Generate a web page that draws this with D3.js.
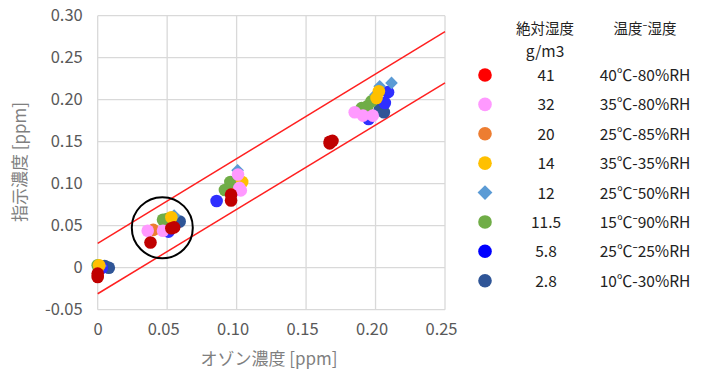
<!DOCTYPE html>
<html>
<head>
<meta charset="utf-8">
<script src="https://cdn.jsdelivr.net/npm/d3@7"></script>
<style>
  html, body { margin: 0; padding: 0; background: #fff; }
  svg { display: block; font-family: "Noto Sans CJK JP", "Noto Sans", sans-serif; }
</style>
</head>
<body>
<svg id="chart" width="707" height="371"></svg>
<script>
// Axis ticks
const xTicks = [0, 0.05, 0.10, 0.15, 0.20, 0.25];
const xTickLabels = ["0", "0.05", "0.10", "0.15", "0.20", "0.25"];
const yTicks = [-0.05, 0, 0.05, 0.10, 0.15, 0.20, 0.25, 0.30];
const yTickLabels = ["-0.05", "0", "0.05", "0.10", "0.15", "0.20", "0.25", "0.30"];

// Legend columns
const absHumidity = ["41", "32", "20", "14", "12", "11.5", "5.8", "2.8"];
const conditions = ["40℃-80%RH", "35℃-80%RH", "25℃-85%RH", "35℃-35%RH",
                    "25℃⁻50%RH", "15℃⁻90%RH", "25℃⁻25%RH", "10℃-30%RH"];

// Measured points [ozone ppm, indicated ppm] per humidity condition
const s41 = [[0.000, -0.007], [0.000, -0.011], [0.038, 0.030], [0.053, 0.047], [0.055, 0.048],
             [0.096, 0.087], [0.096, 0.080], [0.167, 0.150], [0.169, 0.151], [0.167, 0.148]];
const s32 = [[0.036, 0.044], [0.047, 0.044], [0.101, 0.111], [0.102, 0.095], [0.103, 0.092],
             [0.185, 0.185], [0.191, 0.181], [0.198, 0.181]];
const s20 = [[0.001, 0.002], [0.040, 0.045], [0.052, 0.054], [0.099, 0.098], [0.192, 0.190]];
const s14 = [[0.001, 0.003], [0.053, 0.060], [0.104, 0.102], [0.2024, 0.210], [0.2007, 0.202]];
const s12 = [[0.002, 0.002], [0.055, 0.062], [0.1007, 0.116], [0.203, 0.216], [0.2115, 0.220],
             [0.200, 0.206]];
const s115 = [[0.000, 0.003], [0.047, 0.057], [0.050, 0.058], [0.0916, 0.0925], [0.0955, 0.102],
              [0.190, 0.190], [0.197, 0.198], [0.194, 0.192]];
const s58 = [[0.003, 0.000], [0.051, 0.043], [0.0856, 0.0794], [0.209, 0.209], [0.2067, 0.196],
             [0.195, 0.177]];
const s28 = [[0.005, 0.002], [0.008, 0.000], [0.059, 0.055], [0.056, 0.052], [0.097, 0.090],
             [0.203, 0.188], [0.206, 0.185], [0.195, 0.178]];

const seriesData = [s41, s32, s20, s14, s12, s115, s58, s28];
const seriesColor = ["#C00000", "#FF99FF", "#ED7D31", "#FFC000", "#5B9BD5", "#70AD47", "#2F2FFF", "#2F5597"];
const legendColor = ["#FF0000", "#FF99FF", "#ED7D31", "#FFC000", "#5B9BD5", "#70AD47", "#0000FF", "#2F5597"];
const seriesShape = ["circle", "circle", "circle", "circle", "diamond", "circle", "circle", "circle"];
// painting order, bottom to top
const drawOrder = [7, 6, 4, 2, 5, 3, 1, 0];

// Tolerance band: indicated = ozone ± 0.03
const bandLines = [
  [[0, 0.029], [0.25, 0.281]],
  [[0, -0.031], [0.25, 0.220]]
];
// Highlighted low-concentration region
const highlight = { x: 0.0465, y: 0.0476 };

const svg = d3.select("#chart");
const x = d3.scaleLinear().domain([0, 0.25]).range([97.7, 445]);
const y = d3.scaleLinear().domain([-0.05, 0.30]).range([309.7, 15.7]);

// grid
const grid = svg.append("g");
grid.selectAll("line.h").data(yTicks).join("line")
  .attr("x1", x(0)).attr("x2", x(0.25))
  .attr("y1", d => y(d)).attr("y2", d => y(d))
  .attr("stroke", "#D9D9D9").attr("stroke-width", 1.3);
grid.selectAll("line.v").data(xTicks).join("line")
  .attr("y1", y(-0.05)).attr("y2", y(0.30))
  .attr("x1", d => x(d)).attr("x2", d => x(d))
  .attr("stroke", "#D9D9D9").attr("stroke-width", 1.3);

// axes
const yAxis = d3.axisLeft(y).tickValues(yTicks)
  .tickFormat((d, i) => yTickLabels[i]).tickSize(0).tickPadding(15);
svg.append("g").attr("transform", `translate(${x(0)},0)`).call(yAxis)
  .call(g => g.select(".domain").remove())
  .selectAll("text").attr("font-size", 16.5).attr("fill", "#595959")
  .attr("font-family", "'Noto Sans CJK JP', sans-serif");

const xAxis = d3.axisBottom(x).tickValues(xTicks)
  .tickFormat((d, i) => xTickLabels[i]).tickSize(0).tickPadding(14);
svg.append("g").attr("transform", `translate(0,${y(-0.05)})`).call(xAxis)
  .call(g => g.select(".domain").remove())
  .selectAll("text").attr("font-size", 16.5).attr("fill", "#595959")
  .attr("font-family", "'Noto Sans CJK JP', sans-serif")
  .attr("dx", (d, i) => i === 0 ? 0 : -4);

// axis titles
svg.append("text").attr("x", 269).attr("y", 365)
  .attr("text-anchor", "middle").attr("font-size", 17).attr("fill", "#7F7F7F")
  .text("オゾン濃度 [ppm]");
svg.append("text").attr("transform", "translate(26,162) rotate(-90)")
  .attr("text-anchor", "middle").attr("font-size", 17).attr("fill", "#7F7F7F")
  .text("指示濃度 [ppm]");

// band lines
const line = d3.line().x(d => x(d[0])).y(d => y(d[1]));
svg.append("g").selectAll("path").data(bandLines).join("path")
  .attr("d", line).attr("fill", "none").attr("stroke", "#FF2020").attr("stroke-width", 1.5);

// points
const diamond = d3.symbol().type(d3.symbolSquare).size(80);
const pts = svg.append("g");
drawOrder.forEach(si => {
  const g = pts.append("g");
  if (seriesShape[si] === "diamond") {
    g.selectAll("path").data(seriesData[si]).join("path")
      .attr("d", diamond())
      .attr("transform", d => `translate(${x(d[0])},${y(d[1])}) rotate(45)`)
      .attr("fill", seriesColor[si]);
  } else {
    g.selectAll("circle").data(seriesData[si]).join("circle")
      .attr("cx", d => x(d[0])).attr("cy", d => y(d[1])).attr("r", 6.3)
      .attr("fill", seriesColor[si]);
  }
});

// highlight circle
svg.append("circle").attr("cx", x(highlight.x)).attr("cy", y(highlight.y)).attr("r", 30.5)
  .attr("fill", "none").attr("stroke", "#000").attr("stroke-width", 2);

// legend
const lg = svg.append("g").attr("font-size", 15.5).attr("fill", "#222");
lg.append("text").attr("x", 545).attr("y", 34).attr("text-anchor", "middle").attr("font-size", 14.5).text("絶対湿度");
lg.append("text").attr("x", 545).attr("y", 57).attr("text-anchor", "middle").text("g/m3");
lg.append("text").attr("x", 645).attr("y", 34).attr("text-anchor", "middle").attr("font-size", 14.5).text("温度⁻湿度");

const rowY = d3.scaleLinear().domain([0, 7]).range([75, 280.7]);
const rows = lg.selectAll("g.row").data(absHumidity).join("g")
  .attr("transform", (d, i) => `translate(0,${rowY(i)})`);
rows.each(function(d, i) {
  const r = d3.select(this);
  if (seriesShape[i] === "diamond") {
    r.append("path").attr("d", d3.symbol().type(d3.symbolSquare).size(110)())
      .attr("transform", "translate(485,0) rotate(45)").attr("fill", legendColor[i]);
  } else {
    r.append("circle").attr("cx", 485).attr("cy", 0).attr("r", 6.8).attr("fill", legendColor[i]);
  }
  r.append("text").attr("x", 546).attr("y", 6).attr("text-anchor", "middle").text(d);
  r.append("text").attr("x", 645).attr("y", 6).attr("text-anchor", "middle").text(conditions[i]);
});
</script>
</body>
</html>
